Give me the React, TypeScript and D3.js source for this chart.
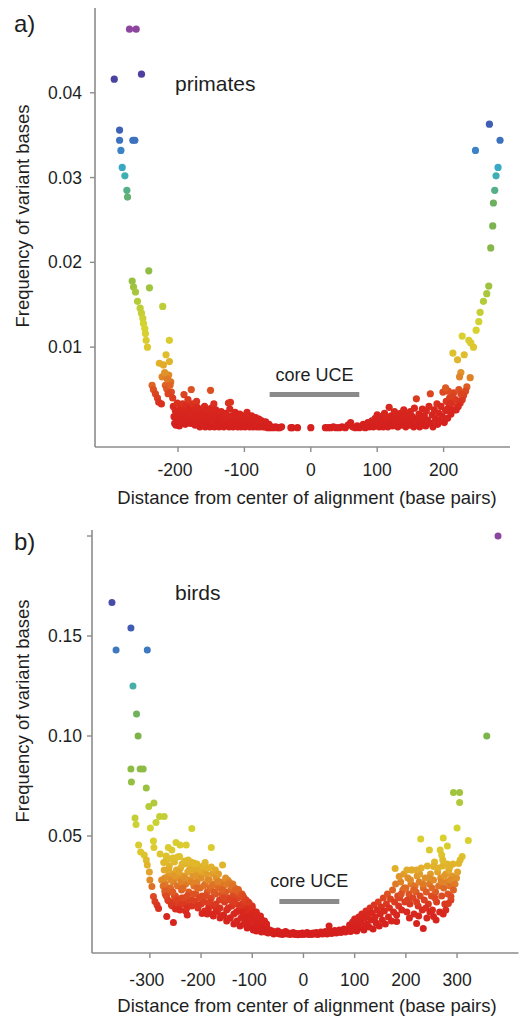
import React from 'react';
import * as d3 from 'd3';

type Pt = [number, number];

// ---- panel a: primates (distance in bp, frequency of variant bases) ----
const primatesLeftTail: Pt[] = [
  [-273, 0.0475], [-263, 0.0475], [-296, 0.0416], [-255, 0.0422],
  [-288, 0.0356], [-288, 0.0344], [-268, 0.0344], [-265, 0.0344], [-286, 0.0332],
  [-284, 0.0312], [-280, 0.0302], [-277, 0.0285], [-276, 0.0277],
  [-269, 0.0178], [-267, 0.0171], [-264, 0.0165], [-244, 0.0190], [-243, 0.0170],
  [-261, 0.0154], [-257, 0.0146], [-255, 0.0140], [-253, 0.0134], [-252, 0.0128],
  [-250, 0.0122], [-249, 0.0116], [-248, 0.0108], [-246, 0.0100],
  [-223, 0.0148], [-213, 0.0108], [-218, 0.0091], [-228, 0.0081], [-222, 0.0079], [-213, 0.0083],
  [-224, 0.0065], [-214, 0.0067], [-211, 0.0059], [-219, 0.0055], [-217, 0.0051], [-210, 0.0047],
  [-220, 0.0070], [-216, 0.0062], [-212, 0.0055], [-215, 0.0045], [-208, 0.0040],
  [-239, 0.0055], [-237, 0.0050], [-234, 0.0045], [-231, 0.0040], [-229, 0.0035], [-225, 0.0033],
];

const primatesLeftCore: Pt[] = [
  [-207, 0.0030], [-206, 0.0018], [-205, 0.0010], [-204, 0.0025], [-203, 0.0008], [-202, 0.0020],
  [-201, 0.0034], [-200, 0.0013], [-199, 0.0024], [-198, 0.0007], [-197, 0.0017], [-196, 0.0028],
  [-195, 0.0010], [-194, 0.0021], [-193, 0.0033], [-192, 0.0015], [-191, 0.0044], [-190, 0.0026],
  [-189, 0.0009], [-188, 0.0020], [-187, 0.0031], [-186, 0.0012], [-185, 0.0038], [-184, 0.0024],
  [-183, 0.0017], [-182, 0.0028], [-181, 0.0010], [-180, 0.0050], [-179, 0.0022], [-178, 0.0033],
  [-177, 0.0014], [-175, 0.0026], [-174, 0.0008], [-173, 0.0019], [-172, 0.0036], [-171, 0.0029],
  [-170, 0.0012], [-168, 0.0023], [-167, 0.0006], [-165, 0.0017], [-164, 0.0027], [-162, 0.0010],
  [-161, 0.0021], [-160, 0.0030], [-159, 0.0006], [-158, 0.0015], [-156, 0.0025], [-155, 0.0009],
  [-153, 0.0019], [-152, 0.0006], [-151, 0.0049], [-150, 0.0028], [-149, 0.0013], [-147, 0.0021],
  [-146, 0.0033], [-145, 0.0006], [-144, 0.0017], [-143, 0.0026], [-141, 0.0010], [-140, 0.0020],
  [-138, 0.0006], [-137, 0.0015], [-135, 0.0024], [-134, 0.0009], [-132, 0.0018], [-131, 0.0006],
  [-129, 0.0013], [-128, 0.0022], [-126, 0.0008], [-125, 0.0016], [-124, 0.0034], [-123, 0.0006],
  [-122, 0.0027], [-121, 0.0035], [-120, 0.0011], [-119, 0.0019], [-117, 0.0006], [-116, 0.0014],
  [-114, 0.0023], [-113, 0.0008], [-111, 0.0017], [-110, 0.0006], [-108, 0.0012], [-107, 0.0021],
  [-105, 0.0006], [-104, 0.0015], [-102, 0.0009], [-101, 0.0019], [-99, 0.0006], [-98, 0.0012],
  [-96, 0.0023], [-95, 0.0008], [-93, 0.0015], [-92, 0.0006], [-90, 0.0011], [-89, 0.0019],
  [-87, 0.0006], [-86, 0.0013], [-84, 0.0008], [-83, 0.0017], [-81, 0.0006], [-80, 0.0011],
  [-78, 0.0015], [-77, 0.0006], [-75, 0.0009], [-74, 0.0013], [-72, 0.0006], [-71, 0.0010],
  [-69, 0.0006], [-68, 0.0012], [-66, 0.0007], [-65, 0.0005], [-63, 0.0009], [-61, 0.0005],
  [-59, 0.0006], [-56, 0.0005], [-53, 0.0006], [-50, 0.0005], [-47, 0.0005], [-44, 0.0006],
  [-30, 0.0005], [-28, 0.0005], [-20, 0.0005], [0, 0.0005],
];

const primatesRightCore: Pt[] = [
  [22, 0.0005], [26, 0.0005], [30, 0.0005], [34, 0.0006], [38, 0.0005], [43, 0.0005],
  [47, 0.0006], [52, 0.0005], [56, 0.0008], [60, 0.0011], [63, 0.0006], [67, 0.0005],
  [70, 0.0007], [73, 0.0005], [76, 0.0006], [79, 0.0009], [82, 0.0005], [84, 0.0007],
  [86, 0.0011], [88, 0.0006], [90, 0.0008], [92, 0.0013], [94, 0.0006], [96, 0.0010],
  [97, 0.0016], [99, 0.0007], [100, 0.0020], [101, 0.0012], [103, 0.0006], [104, 0.0018],
  [106, 0.0009], [108, 0.0014], [109, 0.0006], [111, 0.0022], [113, 0.0010], [114, 0.0016],
  [116, 0.0006], [118, 0.0029], [120, 0.0012], [121, 0.0019], [123, 0.0007], [125, 0.0015],
  [126, 0.0024], [128, 0.0009], [130, 0.0018], [131, 0.0006], [133, 0.0013], [135, 0.0022],
  [136, 0.0008], [138, 0.0017], [140, 0.0026], [141, 0.0011], [143, 0.0006], [145, 0.0020],
  [146, 0.0014], [148, 0.0008], [150, 0.0024], [151, 0.0012], [153, 0.0018], [155, 0.0006],
  [156, 0.0028], [158, 0.0015], [159, 0.0039], [161, 0.0010], [163, 0.0021], [164, 0.0006],
  [166, 0.0016], [168, 0.0027], [169, 0.0011], [171, 0.0019], [173, 0.0007], [174, 0.0025],
  [176, 0.0014], [178, 0.0030], [180, 0.0045], [181, 0.0010], [183, 0.0020], [184, 0.0006],
  [186, 0.0026], [188, 0.0015], [190, 0.0033], [191, 0.0009], [193, 0.0022], [195, 0.0013],
  [196, 0.0030], [198, 0.0018], [199, 0.0047], [201, 0.0011], [203, 0.0025], [204, 0.0036],
  [206, 0.0016], [208, 0.0029], [209, 0.0040], [211, 0.0021], [213, 0.0034], [215, 0.0046],
  [216, 0.0026], [218, 0.0038],
];

const primatesRightTail: Pt[] = [
  [269, 0.0363], [285, 0.0344], [248, 0.0332], [282, 0.0312], [279, 0.0302], [277, 0.0285],
  [275, 0.0270], [274, 0.0243], [271, 0.0217],
  [268, 0.0172], [265, 0.0163], [260, 0.0154], [255, 0.0141], [253, 0.0130], [249, 0.0120],
  [228, 0.0113], [238, 0.0108], [241, 0.0105], [245, 0.0100], [214, 0.0093], [231, 0.0091],
  [221, 0.0085], [226, 0.0070], [224, 0.0065], [240, 0.0064], [235, 0.0053], [233, 0.0048],
  [230, 0.0043], [228, 0.0038], [225, 0.0034], [222, 0.0030], [219, 0.0026], [212, 0.0042],
  [207, 0.0048], [203, 0.0052], [210, 0.0033], [206, 0.0027], [223, 0.0050], [226, 0.0045],
];

const primatesXTicks = [-200, -100, 0, 100, 200];
const primatesYTicks = [0.01, 0.02, 0.03, 0.04];
const primatesYTickLabels = ['0.01', '0.02', '0.03', '0.04'];
const primatesCoreUCE = [-62, 73];
const primatesCoreLevel = 0.0044;

// ---- panel b: birds ----
const birdsLeftTail: Pt[] = [
  [-374, 0.1668], [-337, 0.154], [-366, 0.143], [-305, 0.143], [-333, 0.125], [-326, 0.111],
  [-323, 0.100], [-337, 0.0835], [-319, 0.0835], [-313, 0.0835], [-336, 0.077], [-307, 0.074],
  [-302, 0.0647], [-292, 0.0665], [-329, 0.059], [-327, 0.0558], [-288, 0.0567], [-281, 0.0597],
  [-272, 0.0597], [-299, 0.054], [-218, 0.0537],
  [-322, 0.0455], [-293, 0.0475], [-292, 0.0443], [-264, 0.0443], [-257, 0.043], [-249, 0.0467],
  [-241, 0.0455], [-229, 0.0455], [-180, 0.0443], [-280, 0.041], [-273, 0.0367],
  [-318, 0.042], [-311, 0.0405], [-307, 0.038], [-305, 0.0355], [-301, 0.032], [-300, 0.028],
  [-296, 0.0247], [-293, 0.0197], [-290, 0.0172], [-286, 0.0155], [-283, 0.0138],
  [-277, 0.028], [-274, 0.025], [-271, 0.0225], [-268, 0.020], [-263, 0.0175], [-258, 0.0155],
  [-250, 0.0135], [-241, 0.013],
  [-267, 0.0097], [-254, 0.0067], [-227, 0.0105], [-198, 0.0113], [-188, 0.011], [-176, 0.010],
];

const birdsLeftUpper: Pt[] = [
  [-268, 0.040], [-262, 0.0385], [-255, 0.039], [-246, 0.0395], [-242, 0.0397], [-237, 0.036],
  [-232, 0.0375], [-225, 0.038], [-220, 0.037], [-214, 0.0365], [-208, 0.036], [-202, 0.0333],
  [-196, 0.035], [-192, 0.0367], [-186, 0.034], [-180, 0.0345], [-172, 0.033], [-166, 0.031],
  [-158, 0.0355], [-152, 0.029], [-145, 0.027], [-138, 0.026], [-127, 0.0233], [-120, 0.021],
  [-148, 0.026], [-140, 0.025], [-133, 0.023], [-118, 0.020], [-112, 0.018], [-106, 0.0165],
  [-100, 0.014], [-95, 0.012], [-90, 0.0105], [-84, 0.009], [-78, 0.0075], [-72, 0.006],
];

const birdsLeftCluster: Pt[] = [
  [-272, 0.033], [-270, 0.026], [-268, 0.038], [-266, 0.021], [-264, 0.030], [-262, 0.035],
  [-260, 0.024], [-258, 0.017], [-256, 0.031], [-254, 0.027], [-252, 0.037], [-250, 0.020],
  [-248, 0.033], [-246, 0.025], [-244, 0.029], [-242, 0.016], [-240, 0.034], [-238, 0.023],
  [-236, 0.030], [-234, 0.019], [-232, 0.036], [-230, 0.026], [-228, 0.014], [-226, 0.032],
  [-224, 0.022], [-222, 0.028], [-220, 0.035], [-218, 0.018], [-216, 0.030], [-214, 0.025],
  [-212, 0.033], [-210, 0.021], [-208, 0.027], [-206, 0.015], [-204, 0.031], [-202, 0.024],
  [-200, 0.029], [-198, 0.020], [-196, 0.034], [-194, 0.017], [-192, 0.026], [-190, 0.031],
  [-188, 0.022], [-186, 0.013], [-184, 0.028], [-182, 0.024], [-180, 0.019], [-178, 0.031],
  [-176, 0.015], [-174, 0.026], [-172, 0.021], [-170, 0.029], [-168, 0.012], [-166, 0.024],
  [-164, 0.018], [-162, 0.027], [-160, 0.021], [-158, 0.010], [-156, 0.025], [-154, 0.017],
  [-152, 0.022], [-150, 0.013], [-148, 0.028], [-146, 0.019], [-144, 0.009], [-142, 0.023],
  [-140, 0.015], [-138, 0.020], [-136, 0.011], [-134, 0.024], [-132, 0.016], [-130, 0.007],
  [-128, 0.019], [-126, 0.013], [-124, 0.021], [-122, 0.009], [-120, 0.016], [-118, 0.011],
  [-116, 0.019], [-114, 0.006], [-112, 0.014], [-110, 0.010], [-108, 0.017], [-106, 0.005],
  [-104, 0.012], [-102, 0.008], [-100, 0.015], [-98, 0.004], [-96, 0.010], [-94, 0.006],
  [-92, 0.012], [-90, 0.003], [-88, 0.008], [-86, 0.005], [-84, 0.010], [-82, 0.002],
  [-80, 0.006], [-78, 0.0035], [-76, 0.0075], [-74, 0.002], [-72, 0.005], [-70, 0.003],
  [-271, 0.029], [-267, 0.023], [-263, 0.033], [-259, 0.028], [-255, 0.022], [-251, 0.030],
  [-247, 0.018], [-243, 0.032], [-239, 0.027], [-235, 0.024], [-231, 0.029], [-227, 0.020],
  [-223, 0.033], [-219, 0.027], [-215, 0.021], [-211, 0.030], [-207, 0.024], [-203, 0.019],
  [-199, 0.032], [-195, 0.025], [-191, 0.020], [-187, 0.028], [-183, 0.017], [-179, 0.025],
  [-175, 0.022], [-171, 0.016], [-167, 0.027], [-163, 0.014], [-159, 0.023], [-155, 0.019],
  [-151, 0.026], [-147, 0.014], [-143, 0.018], [-139, 0.024], [-135, 0.017], [-131, 0.012],
  [-127, 0.022], [-123, 0.015], [-119, 0.012], [-115, 0.017], [-111, 0.008], [-107, 0.013],
  [-103, 0.009], [-99, 0.012], [-95, 0.008], [-91, 0.006], [-87, 0.009], [-83, 0.004],
];

const birdsLeftLower: Pt[] = [
  [-270, 0.021], [-265, 0.018], [-260, 0.024], [-256, 0.015], [-252, 0.020], [-248, 0.017],
  [-245, 0.0135], [-238, 0.019], [-234, 0.016], [-230, 0.0125], [-224, 0.017], [-218, 0.015],
  [-212, 0.0175], [-206, 0.014], [-200, 0.016], [-193, 0.0125], [-185, 0.0145], [-178, 0.011],
  [-170, 0.013], [-163, 0.009], [-156, 0.0105], [-150, 0.0075], [-143, 0.009], [-136, 0.006],
  [-130, 0.0075], [-124, 0.005], [-116, 0.006], [-110, 0.004], [-104, 0.0045], [-98, 0.003],
  [-92, 0.0025], [-86, 0.0035],
];

const birdsCenter: Pt[] = [
  [-76, 0.004], [-74, 0.0025], [-71, 0.0035], [-69, 0.0015], [-66, 0.003], [-64, 0.002],
  [-61, 0.0025], [-58, 0.001], [-56, 0.002], [-53, 0.0015], [-50, 0.0025], [-47, 0.001],
  [-44, 0.0018], [-41, 0.0008], [-38, 0.0015], [-35, 0.0022], [-32, 0.001], [-29, 0.0015],
  [-26, 0.0008], [-23, 0.0012], [-20, 0.0018], [-17, 0.0008], [-14, 0.0012], [-11, 0.0006],
  [-8, 0.0012], [-5, 0.0008], [-2, 0.0015], [1, 0.0008], [4, 0.0012], [7, 0.0018],
  [10, 0.0008], [13, 0.0013], [16, 0.0008], [19, 0.0015], [22, 0.001], [25, 0.0018],
  [28, 0.0008], [31, 0.0013], [34, 0.002], [37, 0.001], [40, 0.0015], [43, 0.0022],
  [46, 0.001], [49, 0.0018], [50, 0.005], [52, 0.0025], [55, 0.0012], [58, 0.002],
  [61, 0.0028], [64, 0.0015], [67, 0.0022], [70, 0.003], [73, 0.0018], [76, 0.0025],
  [79, 0.0035], [82, 0.002], [85, 0.003],
];

const birdsRightCluster: Pt[] = [
  [88, 0.003], [90, 0.0055], [92, 0.0022], [94, 0.0045], [96, 0.007], [98, 0.003],
  [100, 0.0085], [102, 0.005], [104, 0.0025], [106, 0.0065], [108, 0.0095], [110, 0.004],
  [112, 0.007], [114, 0.011], [116, 0.0055], [118, 0.003], [120, 0.009], [122, 0.0125],
  [124, 0.006], [126, 0.0105], [128, 0.0045], [130, 0.014], [132, 0.008], [134, 0.0115],
  [136, 0.0035], [138, 0.0155], [140, 0.0095], [142, 0.0065], [144, 0.013], [146, 0.017],
  [148, 0.005], [150, 0.011], [152, 0.0145], [154, 0.008], [156, 0.019], [158, 0.0125],
  [160, 0.006], [162, 0.016], [164, 0.021], [166, 0.0095], [168, 0.014], [170, 0.0185],
  [172, 0.0075], [174, 0.023], [176, 0.012], [178, 0.017], [180, 0.026], [182, 0.0105],
  [184, 0.020], [186, 0.015],
  [188, 0.019], [190, 0.027], [192, 0.013], [194, 0.023], [196, 0.031], [198, 0.017],
  [200, 0.024], [202, 0.012], [204, 0.029], [206, 0.021], [208, 0.016], [210, 0.026],
  [212, 0.033], [214, 0.019], [216, 0.011], [218, 0.025], [220, 0.022], [222, 0.030],
  [224, 0.015], [226, 0.027], [228, 0.020], [230, 0.034], [232, 0.013], [234, 0.024],
  [236, 0.018], [238, 0.029], [240, 0.022], [242, 0.035], [244, 0.016], [246, 0.026],
  [248, 0.031], [250, 0.020], [252, 0.013], [254, 0.028], [256, 0.037], [258, 0.022],
  [260, 0.017], [262, 0.032], [264, 0.025], [266, 0.012], [268, 0.029], [270, 0.020],
  [272, 0.035], [274, 0.024], [276, 0.016], [278, 0.031], [280, 0.027], [282, 0.021],
  [284, 0.033], [286, 0.025], [288, 0.018], [290, 0.030], [292, 0.036],
  [191, 0.021], [197, 0.024], [203, 0.018], [209, 0.028], [215, 0.023], [221, 0.017],
  [227, 0.031], [233, 0.026], [239, 0.014], [245, 0.029], [251, 0.024], [257, 0.019],
  [263, 0.034], [269, 0.027], [275, 0.030], [281, 0.036], [287, 0.028], [241, 0.009],
  [247, 0.012], [225, 0.010], [207, 0.009],
];

const birdsRightTail: Pt[] = [
  [380, 0.200], [358, 0.100], [293, 0.0717], [305, 0.0717], [305, 0.0667], [300, 0.054],
  [229, 0.0485], [273, 0.049], [322, 0.0477], [246, 0.043], [267, 0.043], [270, 0.0405],
  [272, 0.038], [281, 0.045], [310, 0.0397], [306, 0.038], [303, 0.0363], [254, 0.0347],
  [286, 0.0347], [179, 0.0338], [187, 0.0297], [202, 0.033], [211, 0.033], [221, 0.033],
  [299, 0.029], [301, 0.032], [296, 0.026], [293, 0.023], [288, 0.0197], [283, 0.0163],
  [278, 0.013], [273, 0.011], [182, 0.0072], [221, 0.0063], [234, 0.0038], [254, 0.0097],
  [259, 0.008],
];

const birdsXTicks = [-300, -200, -100, 0, 100, 200, 300];
const birdsYTicks = [0.05, 0.10, 0.15, 0.20];
const birdsYTickLabels = ['0.05', '0.10', '0.15', ''];
const birdsCoreUCE = [-47, 70];
const birdsCoreLevel = 0.0172;

const xTitle = 'Distance from center of alignment (base pairs)';
const yTitle = 'Frequency of variant bases';

// colour by relative height (value / panel max)
const colorStops = [0, 0.06, 0.1, 0.14, 0.17, 0.21, 0.26, 0.32, 0.38, 0.5, 0.57, 0.6, 0.65, 0.7, 0.75, 0.88, 1];
const colorHex = [
  '#d41e1e', '#d8281e', '#dc4a22', '#e08a28', '#e2b02a', '#dcc82e', '#d6d430', '#b8cc38',
  '#94bf42', '#7cb44c', '#6db060', '#55b08a', '#38aec4', '#3c82c6', '#3e62b6', '#4a40a0', '#8e45a0',
];
const colorScale = d3.scaleLinear<string>().domain(colorStops).range(colorHex).clamp(true);

const FONT = "'Liberation Sans', Arial, Helvetica, sans-serif";
const AXIS = '#8c8c8c';
const INK = '#1e1e1e';

interface PanelProps {
  points: Pt[];
  box: { left: number; right: number; top: number; bottom: number };
  xDomain: [number, number];
  yDomain: [number, number];
  xTicks: number[];
  yTicks: number[];
  yTickLabels: string[];
  yLabelGap: number;
  letter: string;
  letterY: number;
  species: string;
  speciesY: number;
  core: number[];
  coreLevel: number;
  coreTextGap: number;
  radius: number;
  tickLabelY: number;
  xTitleY: number;
  yTitleY: number;
}

const Panel: React.FC<PanelProps> = (p) => {
  const { box } = p;
  const x = d3.scaleLinear().domain(p.xDomain).range([box.left, box.right]);
  const y = d3.scaleLinear().domain(p.yDomain).range([box.bottom, box.top]);
  const maxY = d3.max(p.points, (d) => d[1]) || 1;
  const coreX0 = x(p.core[0]);
  const coreX1 = x(p.core[1]);
  const coreY = y(p.coreLevel);

  return (
    <g fontFamily={FONT} fill={INK}>
      <text x={14} y={p.letterY} fontSize={24}>{p.letter}</text>
      <text x={175} y={p.speciesY} fontSize={21}>{p.species}</text>

      {/* axes */}
      <line x1={box.left} x2={box.left} y1={box.top} y2={box.bottom} stroke={AXIS} strokeWidth={1.6} />
      <line x1={box.left} x2={box.right} y1={box.bottom} y2={box.bottom} stroke={AXIS} strokeWidth={1.6} />
      {p.yTicks.map((t, i) => (
        <g key={`y${t}`}>
          <line x1={box.left - 5} x2={box.left} y1={y(t)} y2={y(t)} stroke={AXIS} strokeWidth={1.4} />
          <text x={box.left - p.yLabelGap} y={y(t)} dy="0.35em" textAnchor="end" fontSize={17.5}>
            {p.yTickLabels[i]}
          </text>
        </g>
      ))}
      {p.xTicks.map((t) => (
        <g key={`x${t}`}>
          <line x1={x(t)} x2={x(t)} y1={box.bottom} y2={box.bottom + 5} stroke={AXIS} strokeWidth={1.4} />
          <text x={x(t)} dx={t < 0 ? -3 : 0} y={p.tickLabelY} textAnchor="middle" fontSize={17.5}>
            {t}
          </text>
        </g>
      ))}
      <text x={307} y={p.xTitleY} textAnchor="middle" fontSize={18.5}>{xTitle}</text>
      <text transform={`translate(29, ${p.yTitleY}) rotate(-90)`} textAnchor="middle" fontSize={18.5}>
        {yTitle}
      </text>

      {/* core UCE marker */}
      <line x1={coreX0} x2={coreX1} y1={coreY} y2={coreY} stroke="#8a8a8a" strokeWidth={5} />
      <text x={(coreX0 + coreX1) / 2} y={coreY - p.coreTextGap} textAnchor="middle" fontSize={18}>
        core UCE
      </text>

      {/* points */}
      {p.points.map((d, i) => (
        <circle key={i} cx={x(d[0])} cy={y(d[1])} r={p.radius} fill={colorScale(d[1] / maxY)} />
      ))}
    </g>
  );
};

export default function App() {
  const primates = [...primatesLeftCore, ...primatesRightCore, ...primatesLeftTail, ...primatesRightTail];
  const birds = [
    ...birdsCenter, ...birdsLeftLower, ...birdsLeftCluster, ...birdsLeftUpper,
    ...birdsRightCluster, ...birdsLeftTail, ...birdsRightTail,
  ];

  return (
    <svg
      width={520}
      height={1018}
      style={{ position: 'absolute', left: 0, top: 0, background: '#fff', display: 'block' }}
    >
      <rect width={520} height={1018} fill="#fff" />
      <Panel
        points={primates}
        box={{ left: 95, right: 510, top: 8, bottom: 447 }}
        xDomain={[-325, 300]}
        yDomain={[-0.00178, 0.05]}
        xTicks={primatesXTicks}
        yTicks={primatesYTicks}
        yTickLabels={primatesYTickLabels}
        yLabelGap={13}
        letter="a)"
        letterY={32}
        species="primates"
        speciesY={91}
        core={primatesCoreUCE}
        coreLevel={primatesCoreLevel}
        coreTextGap={13.5}
        radius={3.6}
        tickLabelY={476}
        xTitleY={504}
        yTitleY={216}
      />
      <Panel
        points={birds}
        box={{ left: 92, right: 518.5, top: 530, bottom: 953 }}
        xDomain={[-413, 420]}
        yDomain={[-0.0085, 0.203]}
        xTicks={birdsXTicks}
        yTicks={birdsYTicks}
        yTickLabels={birdsYTickLabels}
        yLabelGap={10}
        letter="b)"
        letterY={550}
        species="birds"
        speciesY={600}
        core={birdsCoreUCE}
        coreLevel={birdsCoreLevel}
        coreTextGap={15}
        radius={3.5}
        tickLabelY={986}
        xTitleY={1012}
        yTitleY={711}
      />
    </svg>
  );
}
